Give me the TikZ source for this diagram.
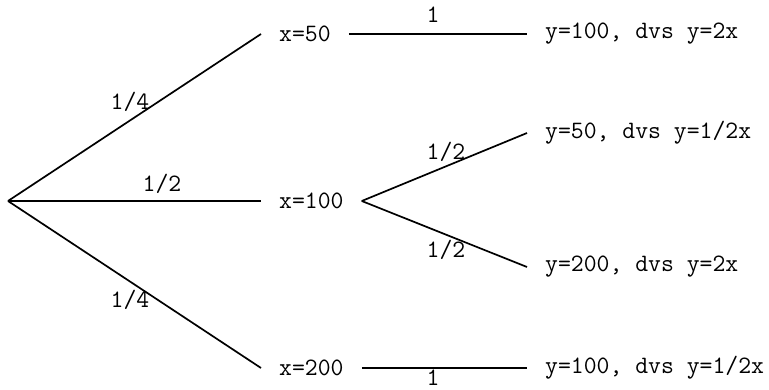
\documentclass[tikz,border=0pt]{standalone}
\usepackage{fontspec}
\begin{document}
\begin{tikzpicture}[x=1pt,y=-1pt,
  lbl/.style={font=\ttfamily\fontsize{25}{27}\selectfont, inner sep=0pt},
  st/.style={lbl, anchor=west, inner xsep=18pt, inner ysep=0pt},
  br/.style={line width=1.7pt}]
\useasboundingbox (0,0) rectangle (769,390);
\coordinate (root) at (8,201);
\node[st] (x50) at (261,34) {x=50};
\node[st] (x100) at (261,201) {x=100};
\node[st] (x200) at (261,368) {x=200};
\node[st] (y1) at (527,34) {y=100, dvs y=2x};
\node[st] (y2) at (527,133) {y=50, dvs y=1/2x};
\node[st] (y3) at (527,267) {y=200, dvs y=2x};
\node[st] (y4) at (527,368) {y=100, dvs y=1/2x};
\draw[br] (root) -- (x50.west);
\draw[br] (root) -- (x100.west);
\draw[br] (root) -- (x200.west);
\draw[br] (x50.east) -- (y1.west);
\draw[br] (x100.east) -- (y2.west);
\draw[br] (x100.east) -- (y3.west);
\draw[br] (x200.east) -- (y4.west);
\node[lbl] (p1) at (130,102) {1/4};
\node[lbl] (p2) at (162,184) {1/2};
\node[lbl] (p3) at (130,300) {1/4};
\node[lbl] (p4) at (433,15) {1};
\node[lbl] (p5) at (446,152) {1/2};
\node[lbl] (p6) at (446,250) {1/2};
\node[lbl] (p7) at (433,378) {1};
\end{tikzpicture}
\end{document}
